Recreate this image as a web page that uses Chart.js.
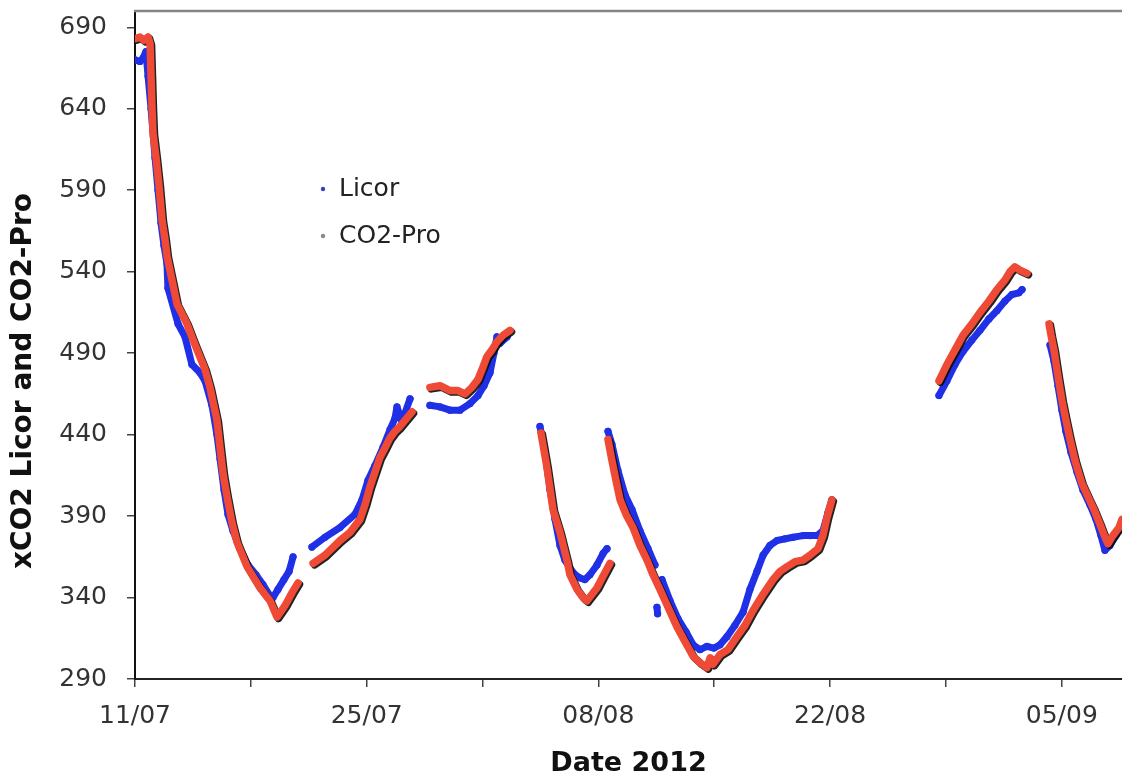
<!DOCTYPE html>
<html>
<head>
<meta charset="utf-8">
<script src="https://cdn.jsdelivr.net/npm/chart.js@4.4.1/dist/chart.umd.min.js"></script>
<style>
  body { margin: 0; background: #fff; }
  #wrap { width: 1122px; height: 776px; position: relative; }
</style>
</head>
<body>
<div id="wrap"><canvas id="myChart"></canvas></div>
<script>
  // days since 11/07/2012, null value = gap in the record
  const licorDays = [
    0, 0.30, 0.48, 0.66, 0.79, 0.97, 1.21, 1.39, 1.57, 1.75, 1.93, 1.99,
    2.60, 3.02, 3.44, 3.93, 4.23, 4.65, 4.95, 5.14, 5.38, 5.62, 5.92, 6.34,
    6.83, 7.31, 7.73, 8.16, 8.34, 8.64, 9.00, 9.31, 9.55, 10.2,
    10.69, 11.48, 12.39, 13.29, 13.72, 14.08, 14.50, 14.98, 15.41, 15.71, 15.83, 16.13, 16.62, 17.3,
    17.82, 18.43, 19.03, 19.64, 20.24, 20.73, 21.09, 21.45, 21.69, 21.87, 22.05, 22.48, 23.5,
    24.47, 24.77, 25.08, 25.38, 25.68, 25.98, 26.28, 26.59, 26.89, 27.19, 27.49, 27.92, 28.28, 28.52, 28.55,
    28.58, 28.82, 29.18, 29.61, 30.03, 30.51, 31.00, 31.42, 31.5,
    31.54, 31.58, 31.6,
    31.84, 32.33, 32.81, 33.29, 33.72, 34.14, 34.56, 34.98, 35.35, 35.77, 36.25, 36.74,
    37.16, 37.58, 37.95, 38.37, 38.79, 39.27, 39.76, 40.36, 40.79, 41.21, 41.57, 41.87, 42.11, 45,
    48.58, 49.06, 49.55, 50.03, 50.57, 51.06, 51.60, 52.08, 52.57, 52.99, 53.41, 53.60, 54.5,
    55.29, 55.53, 55.77, 56.01, 56.25, 56.56, 56.92, 57.28, 57.70, 58.07, 58.37, 58.61, 58.91, 59.27, 59.64
  ];
  const licorValues = [
    670, 669, 671, 675, 660, 640, 610, 590, 570, 556, 545, 530,
    508, 500, 483, 478, 473, 458, 440, 425, 406, 391, 381, 370,
    360, 354, 348, 341, 340, 345, 351, 356, 365, null,
    371, 377, 383, 391, 400, 412, 421, 432, 443, 450, 457, 448, 462, null,
    458, 457, 455, 455, 459, 464, 470, 478, 490, 500, 496, 500, null,
    445, 430, 406, 388, 372, 363, 358, 354, 352, 351, 354, 360, 367, 370, null,
    442, 434, 418, 403, 394, 381, 370, 360, null,
    334, 330, null,
    351, 338, 327, 319, 311, 308, 310, 309, 311, 316, 323, 331,
    345, 356, 366, 372, 375, 376, 377, 378, 378, 378, 381, 392, 400, null,
    464, 473, 483, 491, 498, 504, 511, 516, 522, 526, 527, 529, null,
    495, 485, 470, 455, 442, 429, 417, 406, 397, 388, 378, 369, 372, 378, 385
  ];
  const co2ProDays = [
    0, 0.30, 0.54, 0.79, 0.91, 0.97, 1.03, 1.09, 1.27, 1.45, 1.63, 1.81, 1.93, 2.11,
    2.54, 3.14, 3.44, 3.75, 4.23, 4.53, 4.95, 5.14, 5.32, 5.56, 5.86, 6.16, 6.77,
    7.55, 8.16, 8.58, 9.06, 9.49, 9.85, 10.3,
    10.76, 11.48, 12.39, 12.99, 13.60, 13.90, 14.20, 14.50, 14.80, 15.11, 15.41, 15.71, 16.01, 16.74, 17.3,
    17.82, 18.43, 19.03, 19.52, 19.94, 20.36, 20.73, 20.97, 21.27, 21.57, 21.87, 22.24, 22.66, 23.5,
    24.53, 24.89, 25.26, 25.68, 26.10, 26.28, 26.71, 27.07, 27.31, 27.92, 28.28, 28.70, 28.6,
    28.58, 28.82, 29.06, 29.31, 29.67, 30.09, 30.51, 30.94, 31.30, 31.72, 32.21, 32.75, 33.23, 33.72,
    34.14, 34.56, 34.75, 34.92, 35.35, 35.83, 36.37, 36.86, 37.34, 37.95, 38.55, 38.97, 39.40, 39.88,
    40.36, 40.79, 41.27, 41.57, 41.81, 42.11, 45,
    48.58, 49.06, 49.55, 50.03, 50.57, 51.06, 51.60, 52.08, 52.57, 52.87, 53.17, 53.47, 53.90, 54.5,
    55.23, 55.35, 55.53, 55.77, 56.01, 56.25, 56.50, 56.80, 57.22, 57.58, 57.95, 58.31, 58.61, 58.79, 59.09, 59.46, 59.64
  ];
  const co2ProValues = [
    683, 684, 682, 684, 680, 660, 640, 625, 610, 593, 572, 560, 550, 541,
    520, 508, 500, 492, 480, 469, 449, 432, 416, 402, 386, 374, 359,
    346, 338, 328, 335, 343, 349, null,
    361, 366, 375, 380, 388, 397, 408, 417, 426, 432, 438, 442, 445, 454, null,
    469, 470, 467, 467, 465, 469, 474, 480, 488, 492, 497, 501, 504, null,
    441, 420, 394, 380, 363, 354, 345, 340, 338, 346, 353, 361, null,
    437, 424, 412, 400, 391, 383, 372, 363, 354, 345, 334, 322, 313, 304,
    300, 297, 303, 299, 305, 308, 316, 323, 332, 342, 351, 356, 359, 362,
    363, 366, 370, 378, 389, 400, null,
    473, 483, 492, 501, 508, 515, 522, 529, 535, 540, 543, 541, 539, null,
    508, 501, 492, 476, 461, 449, 437, 424, 410, 402, 394, 385, 377, 373, 378, 383, 388
  ];

  const seriesNames = ['Licor', 'CO2-Pro'];
  const seriesColors = ['#1f30e6', '#ef4a36'];
  const legendMarks = ['#3a3ad0', '#8a8a8a'];

  const tickDays = [0, 7, 14, 21, 28, 35, 42, 49, 56];
  const tickLabels = ['11/07', '', '25/07', '', '08/08', '', '22/08', '', '05/09'];
  const yTicks = [290, 340, 390, 440, 490, 540, 590, 640, 690];

  const FONT = 'Verdana, "DejaVu Sans", sans-serif';

  const toPoints = (xs, ys) => xs.map((x, i) => ({ x: x, y: ys[i] }));

  // black shade under the CO2-Pro band
  const shadePlugin = {
    id: 'shade',
    beforeDatasetDraw(chart, args) {
      if (chart.data.datasets[args.index].label !== 'CO2-Pro') return;
      const ctx = chart.ctx;
      ctx.save();
      ctx.shadowColor = 'rgba(10,10,10,0.9)';
      ctx.shadowOffsetX = 1.5;
      ctx.shadowOffsetY = 1.5;
      ctx.shadowBlur = 0;
    },
    afterDatasetDraw(chart, args) {
      if (chart.data.datasets[args.index].label !== 'CO2-Pro') return;
      chart.ctx.restore();
    }
  };

  const framePlugin = {
    id: 'frame',
    afterDraw(chart) {
      const ctx = chart.ctx;
      const a = chart.chartArea;
      ctx.save();
      // top edge of the plot box
      ctx.strokeStyle = '#858585';
      ctx.lineWidth = 2.5;
      ctx.beginPath();
      ctx.moveTo(a.left - 1, a.top);
      ctx.lineTo(a.right, a.top);
      ctx.stroke();

      // y title
      ctx.fillStyle = '#111';
      ctx.font = 'bold 28px ' + FONT;
      ctx.textAlign = 'center';
      ctx.textBaseline = 'middle';
      ctx.translate(24, 381);
      ctx.rotate(-Math.PI / 2);
      ctx.fillText('xCO2 Licor and CO2-Pro', 0, 0);
      ctx.restore();

      // legend inside the plot
      ctx.save();
      ctx.font = '25px ' + FONT;
      ctx.textBaseline = 'middle';
      seriesNames.forEach((name, i) => {
        const y = 189 + i * 47;
        ctx.fillStyle = legendMarks[i];
        ctx.beginPath();
        ctx.arc(323, y, 2.2, 0, Math.PI * 2);
        ctx.fill();
        ctx.fillStyle = '#222';
        ctx.fillText(name, 339, y);
      });
      ctx.restore();
    }
  };

  const ctx = document.getElementById('myChart');

  new Chart(ctx, {
    type: 'scatter',
    data: {
      datasets: [{
        label: seriesNames[0],
        data: toPoints(licorDays, licorValues),
        showLine: true,
        borderColor: seriesColors[0],
        backgroundColor: seriesColors[0],
        borderWidth: 7,
        pointRadius: 3.6,
        pointBorderWidth: 0,
        borderJoinStyle: 'round',
        borderCapStyle: 'round',
        tension: 0,
        order: 2
      }, {
        label: seriesNames[1],
        data: toPoints(co2ProDays, co2ProValues),
        showLine: true,
        borderColor: seriesColors[1],
        backgroundColor: seriesColors[1],
        borderWidth: 7.5,
        pointRadius: 0,
        borderJoinStyle: 'round',
        borderCapStyle: 'round',
        tension: 0,
        order: 1
      }]
    },
    options: {
      responsive: true,
      maintainAspectRatio: false,
      animation: false,
      layout: { autoPadding: false, padding: { top: 11, right: 0, left: 0, bottom: 0 } },
      plugins: {
        legend: { display: false },
        tooltip: { enabled: false }
      },
      scales: {
        x: {
          type: 'linear',
          min: 0,
          max: 59.64,
          afterBuildTicks: s => { s.ticks = tickDays.map(v => ({ value: v })); },
          afterFit: s => {
            s.height = 97;
            s.paddingLeft = 0;
            s.paddingRight = 0;
          },
          ticks: {
            callback: (v, i) => tickLabels[i],
            autoSkip: false,
            maxRotation: 0,
            padding: 14,
            color: '#333',
            font: { family: FONT, size: 25 }
          },
          grid: { drawOnChartArea: false, tickLength: 8, color: '#444', lineWidth: 1.5 },
          border: { color: '#222', width: 2 },
          title: {
            display: true,
            text: 'Date 2012',
            color: '#111',
            padding: { top: 0, bottom: -3 },
            font: { family: FONT, size: 27, weight: 'bold', lineHeight: 1.1 }
          }
        },
        y: {
          min: 290,
          max: 700,
          afterBuildTicks: s => { s.ticks = yTicks.map(v => ({ value: v })); },
          afterFit: s => {
            s.width = 135;
            s.paddingTop = 0;
            s.paddingBottom = 0;
          },
          ticks: {
            padding: 20,
            color: '#333',
            font: { family: FONT, size: 25 }
          },
          grid: { drawOnChartArea: false, tickLength: 8, color: '#444', lineWidth: 1.5 },
          border: { color: '#111', width: 2 }
        }
      }
    },
    plugins: [shadePlugin, framePlugin]
  });
</script>
</body>
</html>
